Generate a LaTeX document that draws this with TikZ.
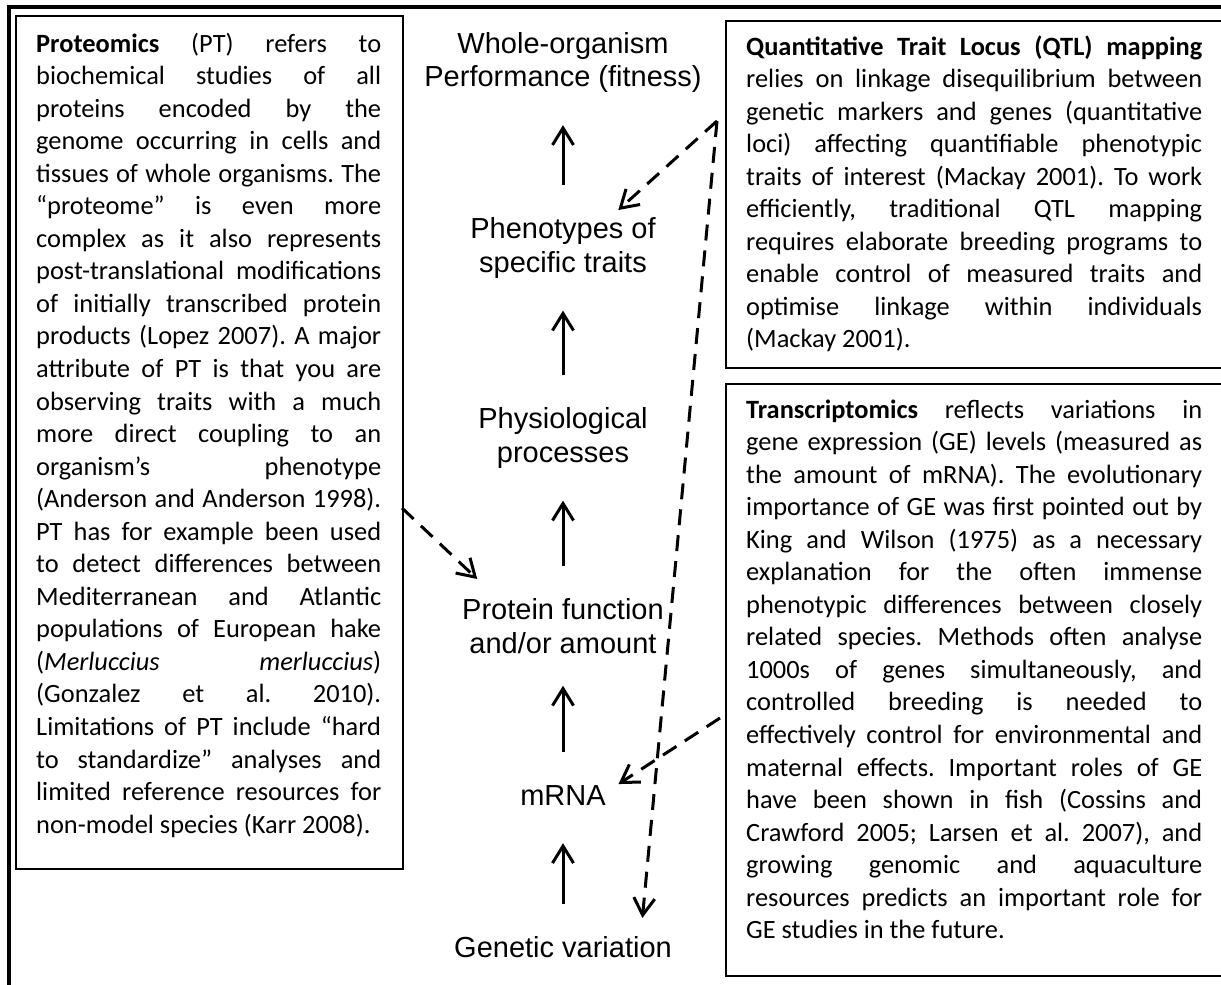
\documentclass[tikz,border=0pt]{standalone}
\usepackage{fontspec}
\newfontfamily\levelfont{Liberation Sans}
\newfontfamily\notefont{Carlito}
\usetikzlibrary{arrows.meta}
\frenchspacing

\begin{document}
\begin{tikzpicture}[x=1pt, y=-1pt,
	level/.style={font=\levelfont\fontsize{29}{33.8}\selectfont, align=center, inner sep=0pt},
	note/.style={font=\notefont\fontsize{26.4}{32.55}\selectfont, text width=#1, align=justify, inner sep=0pt, anchor=base west},
	box/.style={draw, line width=2pt, anchor=north west, inner sep=0pt},
	up/.style={line width=3pt, -{Straight Barb[length=17pt,width=21pt]}, shorten <=32pt, shorten >=32pt},
	link/.style={line width=3pt, dash pattern=on 16pt off 10pt, -{Straight Barb[length=17pt,width=21pt]}, shorten >=#1}]
	\clip (0,0) rectangle (1221,985);
	% page frame
	\draw[line width=4pt] (9,995) -- (9,6.5) -- (1230,6.5);
	% boxes
	\node[box, minimum width=387pt, minimum height=853pt] (ptbox) at (15,15) {};
	\node[box, minimum width=520pt, minimum height=347pt] (qtlbox) at (725,20) {};
	\node[box, minimum width=520pt, minimum height=592pt] (trbox) at (725,383) {};
	\node[note=345pt] (pttext) at (36,52) {\textbf{Proteomics} (PT) refers to\linebreak
		biochemical studies of all\linebreak
		proteins encoded by the\linebreak
		genome occurring in cells and\linebreak
		tissues of whole organisms. The\linebreak
		“proteome” is even more\linebreak
		complex as it also represents\linebreak
		post-translational modifications\linebreak
		of initially transcribed protein\linebreak
		products (Lopez 2007). A major\linebreak
		attribute of PT is that you are\linebreak
		observing traits with a much\linebreak
		more direct coupling to an\linebreak
		organism’s phenotype\linebreak
		(Anderson and Anderson 1998).\linebreak
		PT has for example been used\linebreak
		to detect differences between\linebreak
		Mediterranean and Atlantic\linebreak
		populations of European hake\linebreak
		(\textit{Merluccius merluccius})\linebreak
		(Gonzalez et al. 2010).\linebreak
		Limitations of PT include “hard\linebreak
		to standardize” analyses and\linebreak
		limited reference resources for\linebreak
		non-model species (Karr 2008).};
	\node[note=456pt] (qtltext) at (746,55) {\textbf{Quantitative Trait Locus (QTL) mapping}\linebreak
		relies on linkage disequilibrium between\linebreak
		genetic markers and genes (quantitative\linebreak
		loci) affecting quantifiable phenotypic\linebreak
		traits of interest (Mackay 2001). To work\linebreak
		efficiently, traditional QTL mapping\linebreak
		requires elaborate breeding programs to\linebreak
		enable control of measured traits and\linebreak
		optimise linkage within individuals\linebreak
		(Mackay 2001).};
	\node[note=456pt] (trtext) at (746,418) {\textbf{Transcriptomics} reflects variations in\linebreak
		gene expression (GE) levels (measured as\linebreak
		the amount of mRNA). The evolutionary\linebreak
		importance of GE was first pointed out by\linebreak
		King and Wilson (1975) as a necessary\linebreak
		explanation for the often immense\linebreak
		phenotypic differences between closely\linebreak
		related species. Methods often analyse\linebreak
		1000s of genes simultaneously, and\linebreak
		controlled breeding is needed to\linebreak
		effectively control for environmental and\linebreak
		maternal effects. Important roles of GE\linebreak
		have been shown in fish (Cossins and\linebreak
		Crawford 2005; Larsen et al. 2007), and\linebreak
		growing genomic and aquaculture\linebreak
		resources predicts an important role for\linebreak
		GE studies in the future.};
	% levels
	\node[level] (whole) at (563,62.5) {Whole-organism\\Performance (fitness)};
	\node[level] (phen) at (563,248) {Phenotypes of\\specific traits};
	\node[level] (phys) at (563,438) {Physiological\\processes};
	\node[level] (prot) at (563,626) {Protein function\\and/or amount};
	\node[level, text height=21pt, text depth=6pt] (mrna) at (563,797.5) {mRNA};
	\node[level, text height=21pt, text depth=6pt] (genetic) at (563,949.5) {Genetic variation};
	\draw[up] (phen) -- (whole);
	\draw[up] (phys) -- (phen);
	\draw[up] (prot) -- (phys);
	\draw[up] (mrna) -- (prot);
	\draw[up] (genetic) -- (mrna);
	% dashed links
	\coordinate (qtlpt) at (717,121);
	\coordinate (ptpt) at (402,508);
	\coordinate (trpt) at (720,718);
	\draw[link=11pt] (qtlpt) -- (phen.33);
	\draw[link=18pt] (qtlpt) -- (genetic.10);
	\draw[link=28pt] (ptpt) -- (prot.157);
	\draw[link=15pt] (trpt) -- (mrna.7);
\end{tikzpicture}
\end{document}
